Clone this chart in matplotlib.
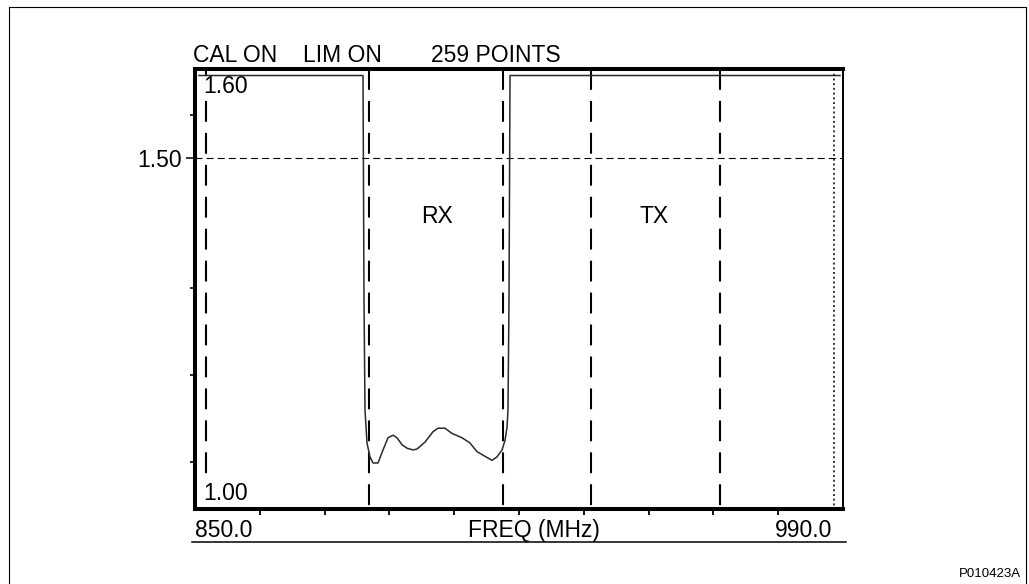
import matplotlib
matplotlib.use('Agg')
import matplotlib.pyplot as plt
from matplotlib.lines import Line2D

plt.rcParams['font.family'] = ['Liberation Sans', 'DejaVu Sans']
plt.rcParams['lines.scale_dashes'] = False

# ---------------- data ----------------
freq_mhz = [850.86, 886.30, 886.51, 886.73, 887.16, 887.81, 888.46, 889.54, 890.62,
            891.70, 892.78, 893.64, 894.72, 895.80, 897.10, 897.96, 899.69, 901.42,
            902.50, 904.01, 905.52, 907.69, 909.41, 910.93, 912.22, 914.17, 915.25,
            916.33, 916.98, 917.41, 917.62, 917.84, 918.06, 989.35]
swr = [1.595, 1.595, 1.337, 1.210, 1.172, 1.156, 1.149, 1.149, 1.164,
       1.178, 1.181, 1.178, 1.170, 1.166, 1.164, 1.165, 1.173, 1.185,
       1.189, 1.189, 1.183, 1.178, 1.172, 1.162, 1.158, 1.152, 1.156,
       1.164, 1.175, 1.190, 1.210, 1.337, 1.595, 1.595]
marker_freqs = [852.4, 887.6, 916.5, 935.6, 963.4]
stop_marker = 988.1
limit_swr = 1.50
x_start, x_stop = 850.0, 990.0
y_min, y_max = 1.096, 1.6025
x_minor_ticks = [864, 878, 892, 906, 920, 934, 948, 962, 976]
y_minor_ticks = [1.15, 1.25, 1.35, 1.55]
header_labels = ['CAL ON', 'LIM ON', '259 POINTS']
top_label, bottom_label = '1.60', '1.00'
band_labels = ['RX', 'TX']
band_centers = [902.3, 949.2]
start_label, stop_label, xlabel = '850.0', '990.0', 'FREQ (MHz)'
figure_id = 'P010423A'

W, H = 1029, 584
FS = 16.5

def fx(px):
    return px / W

def fy(py):
    return 1 - py / H

fig = plt.figure(figsize=(W / 100, H / 100), dpi=100)
ax = fig.add_axes([fx(195), 75 / H, 648 / W, 440 / H])
ax.set_xlim(x_start, x_stop)
ax.set_ylim(y_min, y_max)

for side in ['left', 'top', 'bottom']:
    ax.spines[side].set_linewidth(2.9)
ax.spines['right'].set_linewidth(1.4)

# limit line
ax.axhline(limit_swr, color='black', lw=0.8, dashes=(5, 3), zorder=1)

# marker lines
for f in marker_freqs:
    ax.plot([f, f], [y_max, y_min], color='black', lw=1.5, dashes=(15, 8), zorder=2)
ax.plot([stop_marker, stop_marker], [y_max, y_min], color='black', lw=1.1,
        dashes=(1.4, 2.0), zorder=2)

# trace
ax.plot(freq_mhz, swr, color='#2a2a2a', lw=1.1, zorder=5)

# ticks
ax.set_xticks(x_minor_ticks)
ax.set_xticklabels([])
ax.tick_params(axis='x', direction='out', length=4, width=1.3, top=False)
ax.set_yticks([limit_swr])
ax.set_yticklabels(['1.50'], fontsize=FS)
ax.set_yticks(y_minor_ticks, minor=True)
ax.tick_params(axis='y', which='major', direction='out', length=6.5, width=1.1, pad=3)
ax.tick_params(axis='y', which='minor', direction='out', length=3.5, width=1.2)
ax.tick_params(right=False, top=False)

# inside labels (white background hides the marker line behind them)
bb = dict(facecolor='white', edgecolor='none', pad=0.5)
ax.text(0.012, 1 - (93.3 - 69) / 440, top_label, transform=ax.transAxes,
        fontsize=FS, ha='left', va='baseline', bbox=bb, zorder=3)
ax.text(0.012, 1 - (500 - 69) / 440, bottom_label, transform=ax.transAxes,
        fontsize=FS, ha='left', va='baseline', bbox=bb, zorder=3)
for lab, c in zip(band_labels, band_centers):
    ax.text(c, 1.433, lab, fontsize=FS, ha='center', va='center')

# x axis labels
xt = ax.get_xaxis_transform()
ax.text(x_start, -(536.7 - 509) / 440, start_label, transform=xt, fontsize=FS,
        ha='left', va='baseline')
ax.text(0.523, -(536.7 - 509) / 440, xlabel, transform=ax.transAxes, fontsize=FS,
        ha='center', va='baseline')
ax.text(0.983, -(536.7 - 509) / 440, stop_label, transform=ax.transAxes, fontsize=FS,
        ha='right', va='baseline')

# header
for lab, px in zip(header_labels, [193, 303, 431]):
    fig.text(fx(px), fy(61.7), lab, fontsize=FS, ha='left', va='baseline')

# underline under axis labels
fig.add_artist(Line2D([fx(192), fx(846)], [fy(542), fy(542)], color='black', lw=1.1))

# outer frame
fig.add_artist(Line2D([fx(8.5), fx(8.5), fx(1026), fx(1026)],
                      [fy(590), fy(6.5), fy(6.5), fy(590)], color='black', lw=0.8))

fig.text(fx(1021), fy(576.7), figure_id, fontsize=9.5, ha='right', va='baseline')

fig.savefig('out.png', dpi=100)
